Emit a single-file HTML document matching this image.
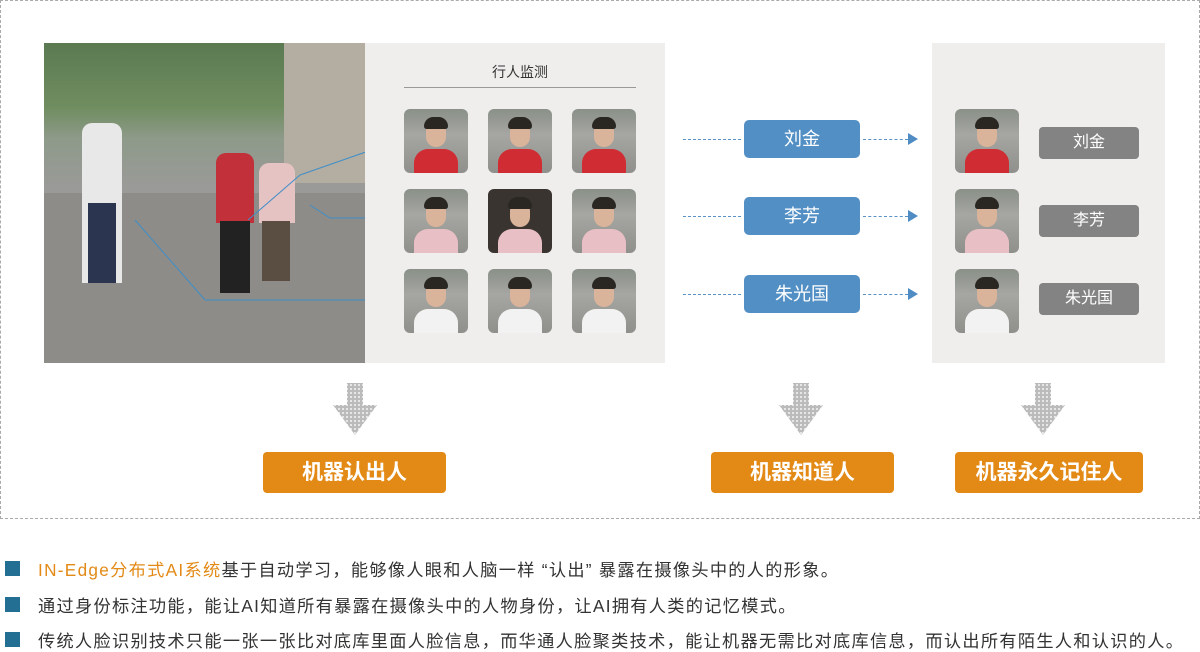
<!DOCTYPE html>
<html><head><meta charset="utf-8"><style>
*{margin:0;padding:0;box-sizing:border-box}
body{width:1200px;height:650px;background:#fff;position:relative;font-family:"Liberation Sans","Noto Sans CJK SC",sans-serif;overflow:hidden}
.a{position:absolute}
.th{position:absolute;width:64px;height:64px;border-radius:6px;overflow:hidden;background:linear-gradient(#8a9088 0,#a6a6a2 40%,#8f8f8c 100%)}
.th .f{position:absolute;left:22px;top:12px;width:20px;height:26px;border-radius:10px;background:#d9b39a}
.th .h{position:absolute;left:20px;top:8px;width:24px;height:12px;border-radius:10px 10px 3px 3px;background:#2a2622}
.th .b{position:absolute;left:10px;top:40px;width:44px;height:30px;border-radius:14px 14px 0 0}
.blue{position:absolute;left:744px;width:116px;height:38px;background:#528fc4;border-radius:5px;color:#fff;font-size:18px;text-align:center;line-height:38px}
.gry{position:absolute;left:1039px;width:100px;height:32px;background:#838383;border-radius:4px;color:#fff;font-size:16px;text-align:center;line-height:32px}
.dl{position:absolute;height:0;border-top:1.5px dashed #5a92c6}
.tri{position:absolute;width:0;height:0;border-left:10px solid #4f8cc4;border-top:6px solid transparent;border-bottom:6px solid transparent}
.org{position:absolute;top:452px;height:41px;background:#e38a16;border-radius:4px;color:#fff;font-size:21px;font-weight:bold;text-align:center;line-height:41px}
.arr{position:absolute;top:383px;width:44px;height:52px}
.bl{position:absolute;left:5px;width:15px;height:15px;background:#236f94}
.tx{position:absolute;left:38px;font-size:17.2px;letter-spacing:1.3px;color:#333;white-space:nowrap}
</style></head><body>
<div class="a" style="left:0;top:0;width:1200px;height:519px;border:1px dashed #aaa"></div>
<div class="a" style="left:44px;top:43px;width:321px;height:320px;background:linear-gradient(180deg,#5b7a52 0,#6f8d5f 20%,#8e9a8a 30%,#9a9a98 45%,#8a8a88 100%);overflow:hidden">
 <div class="a" style="left:0;top:150px;width:321px;height:170px;background:#8d8c89"></div>
 <div class="a" style="left:240px;top:0;width:81px;height:140px;background:#b4aea2"></div>
 <div class="a" style="left:38px;top:80px;width:40px;height:160px;background:#e8e8e8;border-radius:10px 10px 0 0"></div>
 <div class="a" style="left:44px;top:160px;width:28px;height:80px;background:#2c3550"></div>
 <div class="a" style="left:172px;top:110px;width:38px;height:70px;background:#c2303a;border-radius:10px 10px 0 0"></div>
 <div class="a" style="left:176px;top:178px;width:30px;height:72px;background:#222"></div>
 <div class="a" style="left:215px;top:120px;width:36px;height:60px;background:#e6c3c3;border-radius:10px 10px 0 0"></div>
 <div class="a" style="left:218px;top:178px;width:28px;height:60px;background:#5a4e42"></div>
</div>
<svg class="a" style="left:0;top:0" width="420" height="320">
 <g stroke="#3f8ec7" stroke-width="1" fill="none">
  <polyline points="205,300 135,220"/><line x1="205" y1="300" x2="400" y2="300"/>
  <polyline points="248,220 300,175"/><line x1="300" y1="175" x2="400" y2="140"/>
  <polyline points="310,205 330,218 400,218"/>
 </g>
</svg>
<div class="a" style="left:365px;top:43px;width:300px;height:320px;background:#efeeec"></div>
<div class="a" style="left:404px;top:62px;width:232px;text-align:center;font-size:14px;color:#333">行人监测</div>
<div class="a" style="left:404px;top:87px;width:232px;height:1px;background:#999"></div>
<div class="th" style="left:404px;top:109px"><div class="f"></div><div class="h"></div><div class="b" style="background:#cf2d33"></div></div>
<div class="th" style="left:488px;top:109px"><div class="f"></div><div class="h"></div><div class="b" style="background:#cf2d33"></div></div>
<div class="th" style="left:572px;top:109px"><div class="f"></div><div class="h"></div><div class="b" style="background:#cf2d33"></div></div>
<div class="th" style="left:404px;top:189px"><div class="f"></div><div class="h"></div><div class="b" style="background:#e8bfc4"></div></div>
<div class="th" style="left:488px;top:189px;background:#3a3430"><div class="f"></div><div class="h"></div><div class="b" style="background:#e8bfc4"></div></div>
<div class="th" style="left:572px;top:189px"><div class="f"></div><div class="h"></div><div class="b" style="background:#e8bfc4"></div></div>
<div class="th" style="left:404px;top:269px"><div class="f"></div><div class="h"></div><div class="b" style="background:#f2f2f2"></div></div>
<div class="th" style="left:488px;top:269px"><div class="f"></div><div class="h"></div><div class="b" style="background:#f2f2f2"></div></div>
<div class="th" style="left:572px;top:269px"><div class="f"></div><div class="h"></div><div class="b" style="background:#f2f2f2"></div></div>
<div class="dl" style="left:683px;top:139px;width:58px"></div><div class="blue" style="top:120px">刘金</div><div class="dl" style="left:863px;top:139px;width:45px"></div><div class="tri" style="left:908px;top:133px"></div>
<div class="dl" style="left:683px;top:216px;width:58px"></div><div class="blue" style="top:197px">李芳</div><div class="dl" style="left:863px;top:216px;width:45px"></div><div class="tri" style="left:908px;top:210px"></div>
<div class="dl" style="left:683px;top:294px;width:58px"></div><div class="blue" style="top:275px">朱光国</div><div class="dl" style="left:863px;top:294px;width:45px"></div><div class="tri" style="left:908px;top:288px"></div>
<div class="a" style="left:932px;top:43px;width:233px;height:320px;background:#efeeec"></div>
<div class="th" style="left:955px;top:109px"><div class="f"></div><div class="h"></div><div class="b" style="background:#cf2d33"></div></div>
<div class="th" style="left:955px;top:189px"><div class="f"></div><div class="h"></div><div class="b" style="background:#e8bfc4"></div></div>
<div class="th" style="left:955px;top:269px"><div class="f"></div><div class="h"></div><div class="b" style="background:#f2f2f2"></div></div>
<div class="gry" style="top:127px">刘金</div>
<div class="gry" style="top:205px">李芳</div>
<div class="gry" style="top:283px">朱光国</div>
<svg width="0" height="0"><defs><pattern id="p" width="4" height="4" patternUnits="userSpaceOnUse"><rect width="4" height="4" fill="#bbb"/><rect x="1" y="1" width="2" height="2" fill="#e6e6e6"/></pattern></defs></svg>
<svg class="arr" style="left:333px"><polygon points="14,0 30,0 30,22 44,22 22,52 0,22 14,22" fill="url(#p)"/></svg>
<svg class="arr" style="left:779px"><polygon points="14,0 30,0 30,22 44,22 22,52 0,22 14,22" fill="url(#p)"/></svg>
<svg class="arr" style="left:1021px"><polygon points="14,0 30,0 30,22 44,22 22,52 0,22 14,22" fill="url(#p)"/></svg>
<div class="org" style="left:263px;width:183px">机器认出人</div>
<div class="org" style="left:711px;width:183px">机器知道人</div>
<div class="org" style="left:955px;width:188px">机器永久记住人</div>
<div class="bl" style="top:561px"></div><div class="tx" style="top:556px"><span style="color:#e38a16">IN-Edge分布式AI系统</span>基于自动学习，能够像人眼和人脑一样 “认出” 暴露在摄像头中的人的形象。</div>
<div class="bl" style="top:597px"></div><div class="tx" style="top:592px">通过身份标注功能，能让AI知道所有暴露在摄像头中的人物身份，让AI拥有人类的记忆模式。</div>
<div class="bl" style="top:632px"></div><div class="tx" style="top:627px">传统人脸识别技术只能一张一张比对底库里面人脸信息，而华通人脸聚类技术，能让机器无需比对底库信息，而认出所有陌生人和认识的人。</div>
</body></html>
